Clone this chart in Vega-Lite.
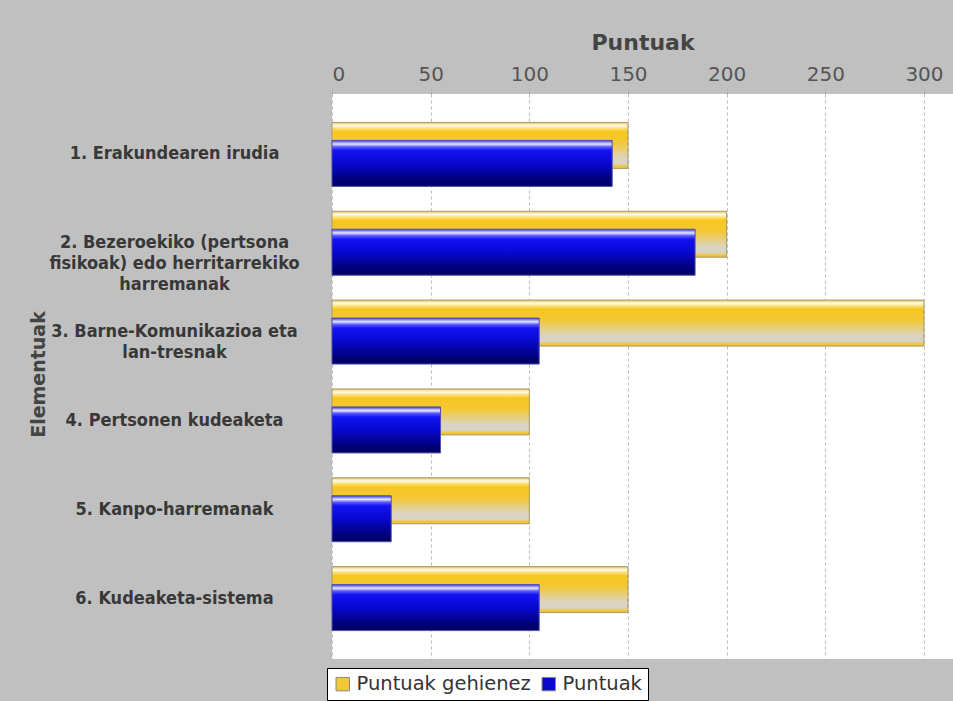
{
  "$schema": "https://vega.github.io/schema/vega-lite/v6.json",
  "width": 621,
  "height": 565,
  "autosize": {"type": "none"},
  "padding": {"left": 332, "top": 94, "right": 0, "bottom": 42},
  "background": "#c0c0c0",
  "config": {"view": {"fill": "white", "stroke": null}},
  "data": {
    "values": [
      {"element": "1. Erakundearen irudia", "series": "Puntuak gehienez", "value": 150},
      {"element": "1. Erakundearen irudia", "series": "Puntuak", "value": 142},
      {"element": "2. Bezeroekiko (pertsona\nfisikoak) edo herritarrekiko\nharremanak", "series": "Puntuak gehienez", "value": 200},
      {"element": "2. Bezeroekiko (pertsona\nfisikoak) edo herritarrekiko\nharremanak", "series": "Puntuak", "value": 184},
      {"element": "3. Barne-Komunikazioa eta\nlan-tresnak", "series": "Puntuak gehienez", "value": 300},
      {"element": "3. Barne-Komunikazioa eta\nlan-tresnak", "series": "Puntuak", "value": 105},
      {"element": "4. Pertsonen kudeaketa", "series": "Puntuak gehienez", "value": 100},
      {"element": "4. Pertsonen kudeaketa", "series": "Puntuak", "value": 55},
      {"element": "5. Kanpo-harremanak", "series": "Puntuak gehienez", "value": 100},
      {"element": "5. Kanpo-harremanak", "series": "Puntuak", "value": 30},
      {"element": "6. Kudeaketa-sistema", "series": "Puntuak gehienez", "value": 150},
      {"element": "6. Kudeaketa-sistema", "series": "Puntuak", "value": 105}
    ]
  },
  "encoding": {
    "y": {
      "field": "element", "type": "nominal", "sort": null,
      "scale": {"paddingOuter": 0.18, "paddingInner": 0},
      "axis": {
        "title": "Elementuak",
        "domain": false, "ticks": false, "grid": false,
        "labelAlign": "center", "labelBaseline": "middle", "labelPadding": 158,
        "labelFont": "DejaVu Sans Condensed", "labelFontWeight": "bold", "labelFontSize": 18,
        "labelColor": "#383838", "labelLineHeight": 21, "labelLimit": 0,
        "labelExpr": "split(datum.value, '\\n')",
        "titleFont": "DejaVu Sans", "titleFontSize": 19, "titleFontWeight": "bold", "titleColor": "#444444",
        "titleX": -294, "titleY": 280, "titleAngle": -90, "titleAlign": "center", "titleBaseline": "middle"
      }
    },
    "x": {
      "field": "value", "type": "quantitative",
      "scale": {"domain": [0, 314.7], "nice": false},
      "axis": {
        "orient": "top", "title": "Puntuak",
        "values": [0, 50, 100, 150, 200, 250, 300],
        "grid": true, "gridDash": [3, 3], "gridColor": "#bbbbbb",
        "tickDash": [2, 2], "tickColor": "#999999", "tickSize": 5,
        "domain": false,
        "labelFont": "DejaVu Sans", "labelFontSize": 20, "labelColor": "#555555", "labelPadding": 5,
        "titleFont": "DejaVu Sans", "titleFontSize": 22, "titleFontWeight": "bold", "titleColor": "#444444",
        "titleY": -52, "titleBaseline": "middle"
      }
    }
  },
  "layer": [
    {
      "transform": [{"filter": "datum.series === 'Puntuak gehienez'"}],
      "mark": {"type": "bar", "size": 46, "yOffset": -9, "stroke": "#a89a6a", "strokeWidth": 1,
        "fill": {"gradient": "linear", "x1": 0, "y1": 0, "x2": 0, "y2": 1, "stops": [
            {"offset": 0, "color": "#e6c45a"},
            {"offset": 0.07, "color": "#fffbe8"},
            {"offset": 0.13, "color": "#fbe07a"},
            {"offset": 0.2, "color": "#f7c61e"},
            {"offset": 0.45, "color": "#f3c838"},
            {"offset": 0.78, "color": "#dad4c4"},
            {"offset": 0.9, "color": "#d8d3c4"},
            {"offset": 0.95, "color": "#f2c83a"},
            {"offset": 1, "color": "#e2bd3c"}
          ]}}
    },
    {
      "transform": [{"filter": "datum.series === 'Puntuak'"}],
      "mark": {"type": "bar", "size": 46, "yOffset": 9, "stroke": "#5050b0", "strokeWidth": 1,
        "fill": {"gradient": "linear", "x1": 0, "y1": 0, "x2": 0, "y2": 1, "stops": [
            {"offset": 0, "color": "#3a3ad8"},
            {"offset": 0.08, "color": "#e8e8ff"},
            {"offset": 0.14, "color": "#5a5aff"},
            {"offset": 0.22, "color": "#1212f5"},
            {"offset": 0.5, "color": "#0808d0"},
            {"offset": 0.85, "color": "#00007a"},
            {"offset": 1, "color": "#000060"}
          ]}}
    },
    {
      "mark": {"type": "square", "size": 0, "filled": true},
      "encoding": {
        "color": {
          "field": "series", "type": "nominal",
          "scale": {"domain": ["Puntuak gehienez", "Puntuak"], "range": ["#f0c83a", "#0a0ac8"]},
          "legend": {
            "orient": "none", "legendX": -5, "legendY": 574,
            "direction": "horizontal", "title": null,
            "fillColor": "white", "strokeColor": "black", "padding": 6,
            "symbolType": "square", "symbolSize": 180, "symbolStrokeColor": "#888888", "symbolStrokeWidth": 1,
            "symbolOpacity": 1,
            "labelFont": "DejaVu Sans", "labelFontSize": 19.5, "labelColor": "#333333", "labelLimit": 0,
            "columnPadding": 8, "labelOffset": 4
          }
        }
      }
    }
  ]
}
